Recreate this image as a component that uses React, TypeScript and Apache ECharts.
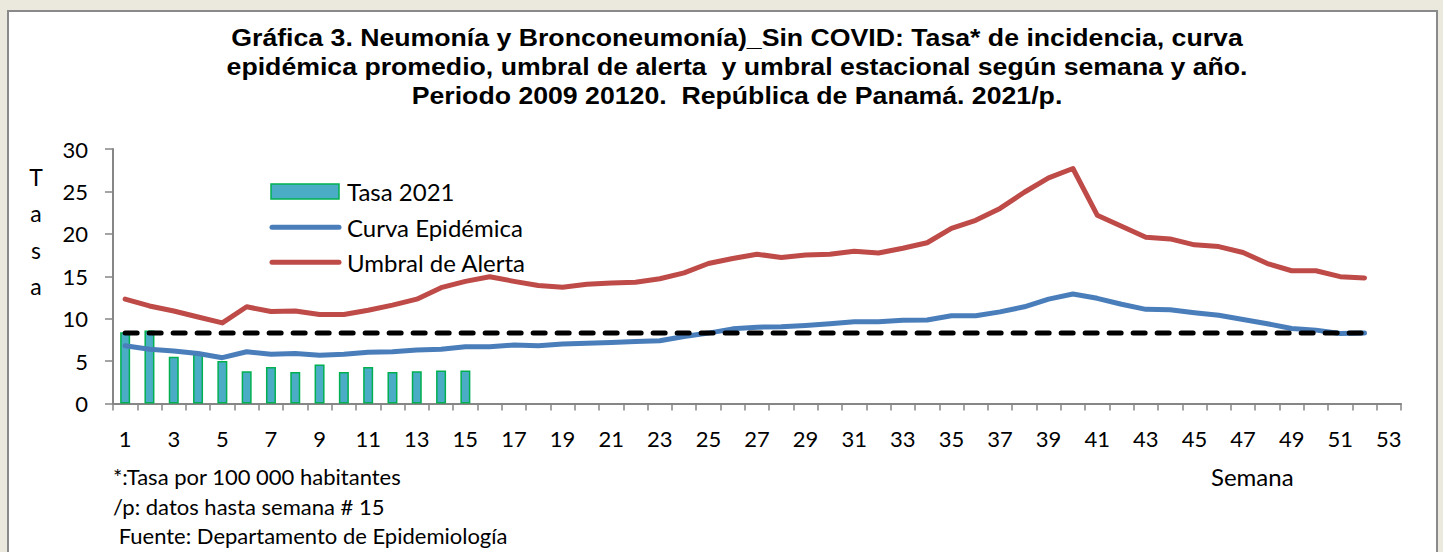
import React, { useEffect, useRef } from "react";
import * as echarts from "echarts";

const weeks = ["1","2","3","4","5","6","7","8","9","10","11","12","13","14","15","16","17","18","19","20","21","22","23","24","25","26","27","28","29","30","31","32","33","34","35","36","37","38","39","40","41","42","43","44","45","46","47","48","49","50","51","52","53"];

const tasa2021 = [8.4, 8.6, 5.5, 5.8, 5.0, 3.8, 4.3, 3.7, 4.6, 3.7, 4.3, 3.7, 3.8, 3.9, 3.9];

const curvaEpidemica = [6.8, 6.4, 6.2, 5.9, 5.4, 6.1, 5.8, 5.9, 5.7, 5.8, 6.05, 6.1, 6.3, 6.4, 6.7, 6.7, 6.9, 6.8, 7.0, 7.1, 7.2, 7.3, 7.4, 7.9, 8.3, 8.8, 9.0, 9.05, 9.2, 9.4, 9.65, 9.65, 9.8, 9.85, 10.35, 10.35, 10.8, 11.4, 12.3, 12.9, 12.4, 11.7, 11.1, 11.05, 10.7, 10.4, 9.9, 9.4, 8.85, 8.65, 8.25, 8.3];

const umbralAlerta = [12.3, 11.5, 10.9, 10.2, 9.5, 11.4, 10.85, 10.9, 10.5, 10.5, 11.0, 11.6, 12.3, 13.65, 14.4, 14.95, 14.4, 13.9, 13.7, 14.05, 14.2, 14.3, 14.7, 15.4, 16.5, 17.1, 17.6, 17.2, 17.5, 17.6, 17.95, 17.75, 18.3, 18.95, 20.65, 21.6, 23.0, 24.9, 26.6, 27.7, 22.2, 20.9, 19.6, 19.4, 18.7, 18.5, 17.8, 16.5, 15.65, 15.65, 14.95, 14.8];

const umbralEstacional = [8.3, 8.3, 8.3, 8.3, 8.3, 8.3, 8.3, 8.3, 8.3, 8.3, 8.3, 8.3, 8.3, 8.3, 8.3, 8.3, 8.3, 8.3, 8.3, 8.3, 8.3, 8.3, 8.3, 8.3, 8.3, 8.3, 8.3, 8.3, 8.3, 8.3, 8.3, 8.3, 8.3, 8.3, 8.3, 8.3, 8.3, 8.3, 8.3, 8.3, 8.3, 8.3, 8.3, 8.3, 8.3, 8.3, 8.3, 8.3, 8.3, 8.3, 8.3, 8.3];

const seriesNames = ["Tasa 2021", "Curva Epidémica", "Umbral de Alerta", "Umbral Estacional"];
const seriesColors = ["#4bacc6", "#4a7ebb", "#be4b48", "#000000"];

const titleLines = [
  "Gráfica 3. Neumonía y Bronconeumonía)_Sin COVID: Tasa* de incidencia, curva",
  "epidémica promedio, umbral de alerta  y umbral estacional según semana y año.",
  "Periodo 2009 20120.  República de Panamá. 2021/p.",
];

const notes = [
  "*:Tasa por 100 000 habitantes",
  "/p: datos hasta semana # 15",
  " Fuente: Departamento de Epidemiología",
];

const FONT = "Lato";

export default function App() {
  const ref = useRef<HTMLDivElement>(null);
  useEffect(() => {
    if (!ref.current) return;
    const chart = echarts.init(ref.current, undefined, { renderer: "svg" });
    const legendX = 272;
    const legendLineEnd = 339;
    const legendTextX = 347;
    const legendY = [191.5, 227.3, 262.3];
    chart.setOption({
      animation: false,
      backgroundColor: "#ebe8de",
      grid: { left: 113, top: 149, width: 1288, height: 254.5, containLabel: false },
      xAxis: {
        type: "category",
        data: weeks,
        boundaryGap: true,
        axisLine: { lineStyle: { color: "#868686", width: 2 } },
        axisTick: { show: true, interval: 0, length: 7, lineStyle: { color: "#868686", width: 1.5 } },
        axisLabel: { interval: 1, margin: 24, fontFamily: FONT, fontSize: 22, color: "#000" },
        splitLine: { show: false },
      },
      yAxis: {
        type: "value",
        min: 0,
        max: 30,
        interval: 5,
        axisLine: { show: true, lineStyle: { color: "#868686", width: 2 } },
        axisTick: { show: true, length: 8, lineStyle: { color: "#868686", width: 1.5 } },
        axisLabel: { margin: 25, fontFamily: FONT, fontSize: 22, color: "#000" },
        splitLine: { show: false },
      },
      series: [
        {
          name: seriesNames[0],
          type: "bar",
          data: tasa2021,
          barWidth: 10,
          itemStyle: { color: seriesColors[0], borderColor: "#00b050", borderWidth: 1.5 },
          z: 1,
        },
        {
          name: seriesNames[1],
          type: "line",
          data: curvaEpidemica,
          symbol: "none",
          lineStyle: { color: seriesColors[1], width: 5, cap: "round", join: "round" },
          itemStyle: { color: seriesColors[1] },
          z: 3,
        },
        {
          name: seriesNames[2],
          type: "line",
          data: umbralAlerta,
          symbol: "none",
          lineStyle: { color: seriesColors[2], width: 5, cap: "round", join: "round" },
          itemStyle: { color: seriesColors[2] },
          z: 3,
        },
        {
          name: seriesNames[3],
          type: "line",
          data: umbralEstacional,
          symbol: "none",
          lineStyle: { color: seriesColors[3], width: 5, type: [12, 12], cap: "round" },
          itemStyle: { color: seriesColors[3] },
          z: 4,
        },
      ],
      graphic: [
        {
          type: "rect",
          z: -10,
          silent: true,
          shape: { x: 8, y: 11, width: 1429, height: 560 },
          style: { fill: "#ffffff", stroke: "#8a8a8a", lineWidth: 2 },
        },
        {
          type: "text",
          x: 737,
          y: 23.5,
          scaleX: 1.16,
          z: 10,
          style: {
            text: titleLines.join("\n"),
            fontFamily: "Liberation Sans",
            fontWeight: "bold",
            fontSize: 23,
            lineHeight: 29,
            fill: "#000",
            align: "center",
            verticalAlign: "top",
          },
        },
        // legend
        {
          type: "rect",
          z: 10,
          shape: { x: 271, y: 184, width: 68, height: 15 },
          style: { fill: seriesColors[0], stroke: "#00b050", lineWidth: 1.5 },
        },
        {
          type: "line",
          z: 10,
          shape: { x1: legendX, y1: legendY[1], x2: legendLineEnd, y2: legendY[1] },
          style: { stroke: seriesColors[1], lineWidth: 5, lineCap: "round" },
        },
        {
          type: "line",
          z: 10,
          shape: { x1: legendX, y1: legendY[2], x2: legendLineEnd, y2: legendY[2] },
          style: { stroke: seriesColors[2], lineWidth: 5, lineCap: "round" },
        },
        ...[0, 1, 2].map((i) => ({
          type: "text",
          z: 10,
          x: legendTextX,
          y: legendY[i],
          style: { text: seriesNames[i], fontFamily: FONT, fontSize: 24, fill: "#000", align: "left", verticalAlign: "middle" },
        })),
        {
          type: "text",
          x: 36,
          y: 159,
          style: { text: "T\na\ns\na", fontFamily: FONT, fontSize: 23, lineHeight: 36.3, fill: "#000", align: "center", verticalAlign: "top" },
        },
        {
          type: "text",
          x: 1211,
          y: 476,
          style: { text: "Semana", fontFamily: FONT, fontSize: 24, fill: "#000", align: "left", verticalAlign: "middle" },
        },
        {
          type: "text",
          x: 113,
          y: 462,
          style: { text: notes.join("\n"), fontFamily: FONT, fontSize: 22, lineHeight: 29.5, fill: "#000", align: "left", verticalAlign: "top" },
        },
      ],
    });
    return () => chart.dispose();
  }, []);
  return (
    <div
      ref={ref}
      style={{ position: "absolute", left: 0, top: 0, width: 1443, height: 552 }}
    />
  );
}
